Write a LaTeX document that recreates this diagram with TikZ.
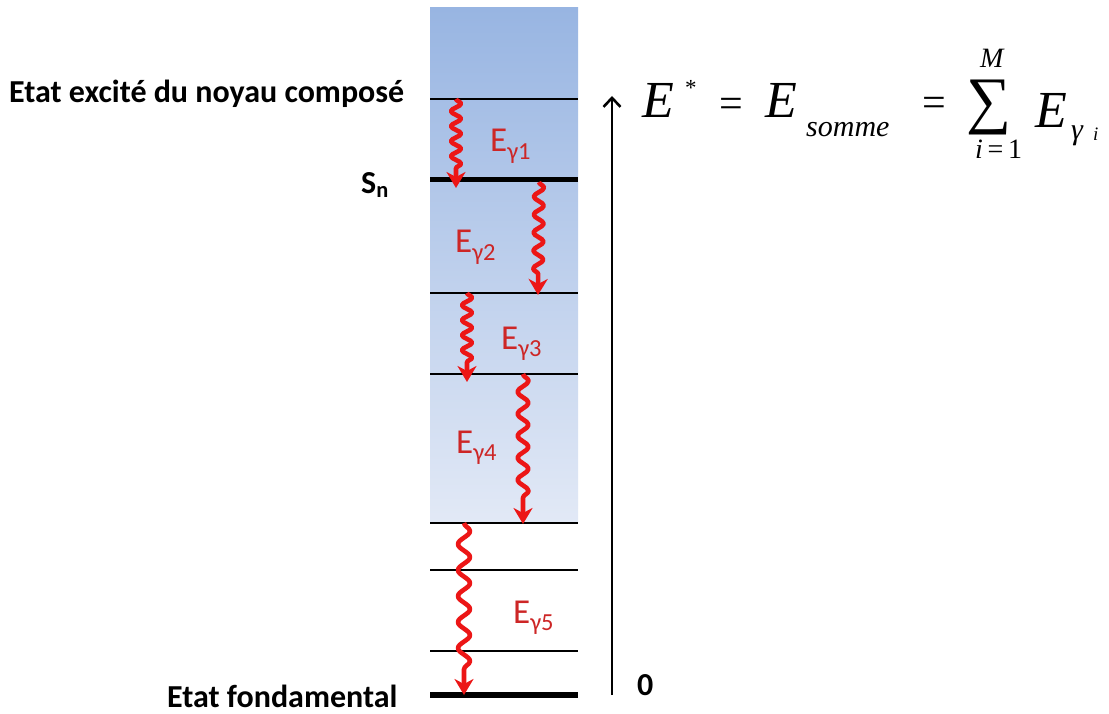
\documentclass[tikz,border=0pt]{standalone}
\usepackage{fontspec}
\setmainfont{Carlito}
\newfontfamily\tms{Liberation Serif}
\usetikzlibrary{decorations.pathmorphing,arrows.meta}
\definecolor{boxtop}{RGB}{152,181,226}
\definecolor{boxbot}{RGB}{226,233,246}
\definecolor{photonred}{RGB}{236,22,22}
\definecolor{labred}{RGB}{205,38,38}
\tikzset{
  lvl/.style={line width=1.5pt, black},
  gnd/.style={line width=5.5pt, black},
  photon/.style 2 args={draw=photonred, line width=4.6pt, line join=round,
    decorate, decoration={snake, segment length=#1, amplitude=#2, post length=17pt},
    -{Stealth[length=16pt,width=19pt,inset=5pt]}},
  elab/.style={text=labred, font=\fontsize{35}{38}\selectfont, inner sep=0pt, anchor=base west},
  blab/.style={font=\fontsize{32}{36}\selectfont\bfseries, inner sep=0pt, anchor=base west},
  eqbig/.style={font=\tms\itshape\fontsize{52}{56}\selectfont, inner sep=0pt, anchor=base west},
  eqmid/.style={font=\tms\fontsize{42}{46}\selectfont, inner sep=0pt, anchor=base west},
  eqsub/.style={font=\tms\itshape\fontsize{30}{32}\selectfont, inner sep=0pt, anchor=base west},
  eqsml/.style={font=\tms\fontsize{28}{30}\selectfont, inner sep=0pt, anchor=base west}
}
\begin{document}
\begin{tikzpicture}[x=1pt,y=-1pt]
\useasboundingbox (0,0) rectangle (1109,714);
\fill[white] (0,0) rectangle (1109,714);
% shaded continuum box
\shade[top color=boxtop, bottom color=boxbot] (430,8) rectangle (578,523);
% levels
\foreach \n/\y in {a/99,c/293,d/374,e/523,f/570,g/651} {
  \coordinate (L\n w) at (430,\y);
  \coordinate (L\n e) at (578,\y);
  \draw[lvl] (L\n w) -- (L\n e);
}
\coordinate (Lbw) at (430,179.5); \coordinate (Lbe) at (578,179.5);
\draw[gnd] (Lbw) -- (Lbe);
\coordinate (Lhw) at (430,695); \coordinate (Lhe) at (578,695);
\draw[gnd] (Lhw) -- (Lhe);
% photons
\coordinate (p1s) at (456,99);  \coordinate (p1e) at (456,188);
\coordinate (p2s) at (539,182); \coordinate (p2e) at (538,295);
\coordinate (p3s) at (467,293); \coordinate (p3e) at (467,382);
\coordinate (p4s) at (523,374); \coordinate (p4e) at (523,524);
\coordinate (p5s) at (464,523); \coordinate (p5e) at (464,695);
\draw[photon={15pt}{5pt}] (p1s) -- (p1e);
\draw[photon={18pt}{5pt}] (p2s) -- (p2e);
\draw[photon={15pt}{5pt}] (p3s) -- (p3e);
\draw[photon={22pt}{5.5pt}] (p4s) -- (p4e);
\draw[photon={26pt}{6pt}] (p5s) -- (p5e);
% photon labels
\node[elab] (g1) at (490,152) {E\textsubscript{γ1}};
\node[elab] (g2) at (455,253) {E\textsubscript{γ2}};
\node[elab] (g3) at (501,349) {E\textsubscript{γ3}};
\node[elab] (g4) at (456,453) {E\textsubscript{γ4}};
\node[elab] (g5) at (513,623) {E\textsubscript{γ5}};
% left labels
\node[blab] (exc) at (9,103) {Etat excité du noyau composé};
\node[blab] (sn) at (361,194) {S\textsubscript{n}};
\node[blab] (fond) at (167,707) {Etat fondamental};
\node[blab] (zero) at (637,695) {0};
% energy axis
\coordinate (ax0) at (612,695); \coordinate (ax1) at (612,96);
\draw[line width=2.6pt, -{Straight Barb[length=9pt,width=17pt]}] (ax0) -- (ax1);
% equation
\node[eqbig] (eA) at (642,118) {E};
\node[font=\tms\fontsize{23}{25}\selectfont, inner sep=0pt, anchor=base west] (st) at (685,96) {*};
\node[eqmid] (eq1) at (719,118) {=};
\node[eqbig] (eB) at (765,118) {E};
\node[eqsub] (som) at (806,137) {somme};
\node[eqmid] (eq2) at (922,117) {=};
\node[inner sep=0pt, anchor=north west] (sig) at (966,80) {\resizebox*{45pt}{55pt}{\tms ∑}};
\node[eqsml, font=\tms\itshape\fontsize{28}{30}\selectfont] (mm) at (980,68) {M};
\node[eqsml] (ione) at (975,159) {\textit{i}\,=\,1};
\node[eqbig] (eC) at (1035,128) {E};
\node[eqsub] (gam) at (1071,140) {γ};
\node[font=\tms\itshape\fontsize{19}{21}\selectfont, inner sep=0pt, anchor=base west] (ii) at (1093,141) {i};
\end{tikzpicture}
\end{document}
